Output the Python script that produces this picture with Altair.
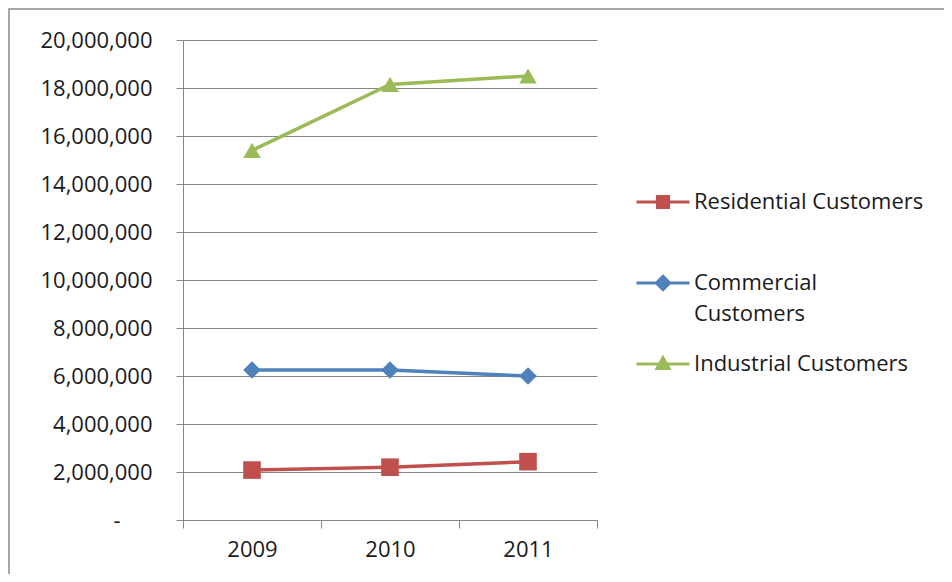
import altair as alt
import pandas as pd

years = ["2009", "2010", "2011"]
series = ["Residential Customers", "Commercial Customers", "Industrial Customers"]
residential = [2080000, 2200000, 2430000]
commercial = [6250000, 6250000, 6000000]
industrial = [15400000, 18150000, 18500000]
colors = ["#C0504D", "#4F81BD", "#9BBB59"]
markers = ["square", "diamond", "triangle-up"]

rows = []
for name, vals in zip(series, [residential, commercial, industrial]):
    for yr, v in zip(years, vals):
        rows.append({"year": yr, "series": name, "value": v})
df = pd.DataFrame(rows)
# separate keys so the marker/line scales do not merge with the colour legend
df["mk"] = df["series"] + " m"
df["lk"] = df["series"] + " l"

FONT = "Open Sans"
FS = 22

x_enc = alt.X(
    "year:N",
    sort=years,
    scale=alt.Scale(paddingInner=0, paddingOuter=0),
    axis=alt.Axis(
        title=None,
        labelAngle=0,
        tickBand="extent",
        tickSize=8,
        labelPadding=11,
        grid=False,
        domainColor="#868686",
        tickColor="#868686",
        labelFont=FONT,
        labelFontSize=FS,
        labelColor="#1a1a1a",
    ),
)
y_enc = alt.Y(
    "value:Q",
    scale=alt.Scale(domain=[0, 20000000], nice=False),
    axis=alt.Axis(
        title=None,
        values=list(range(0, 20000001, 2000000)),
        labelExpr="datum.value == 0 ? '-' : format(datum.value, ',')",
        tickSize=7,
        labelPadding={"condition": {"test": "datum.value == 0", "value": 56}, "value": 24},
        grid=True,
        gridColor="#868686",
        gridWidth=1,
        domainColor="#868686",
        tickColor="#868686",
        labelFont=FONT,
        labelFontSize=FS,
        labelColor="#1a1a1a",
    ),
)

lines = alt.Chart(df).mark_line(strokeWidth=3.5).encode(
    x=x_enc,
    y=y_enc,
    stroke=alt.Stroke(
        "lk:N", scale=alt.Scale(domain=[s + " l" for s in series], range=colors), legend=None
    ),
    detail="series:N",
)

sym_expr = (
    "datum.value == 'Residential Customers' ? 'M-1,0H1M-0.21,-0.21H0.21V0.21H-0.21Z' : "
    "(datum.value == 'Commercial Customers' ? 'M-1,0H1M0,-0.25L0.25,0L0,0.25L-0.25,0Z' : "
    "'M-1,0H1M0,-0.24L0.23,0.17L-0.23,0.17Z')"
)

label_expr = (
    "datum.label == 'Commercial Customers' ? ['Commercial', 'Customers'] : "
    "(datum.label == 'Residential Customers' ? [datum.label, ''] : datum.label)"
)

points = alt.Chart(df).mark_point(filled=True, opacity=1, size=310).encode(
    x=x_enc,
    y=y_enc,
    shape=alt.Shape(
        "mk:N", scale=alt.Scale(domain=[s + " m" for s in series], range=markers), legend=None
    ),
    color=alt.Color(
        "series:N",
        scale=alt.Scale(domain=series, range=colors),
        legend=alt.Legend(
            title=None,
            orient="none",
            legendX=452,
            legendY=134,
            padding=0,
            rowPadding=11,
            symbolType=alt.ExprRef(sym_expr),
            symbolSize=2809,
            symbolStrokeWidth=3,
            symbolStrokeColor=alt.ExprRef("scale('color', datum.value)"),
            symbolOpacity=1,
            labelExpr=label_expr,
            labelFont=FONT,
            labelFontSize=FS,
            labelColor="#1a1a1a",
            labelLimit=400,
            labelOffset=3,
        ),
    ),
)

frame = alt.Chart(pd.DataFrame({"k": [0]})).mark_rect(
    fill="white", fillOpacity=0, stroke="#8a8a8a", strokeWidth=1.5
).encode(
    x=alt.value(-174), x2=alt.value(765), y=alt.value(-31), y2=alt.value(560)
)

chart = (
    alt.layer(frame, lines, points)
    .properties(
        width=414,
        height=480,
        autosize=alt.AutoSizeParams(type="none"),
        padding={"left": 175, "top": 32, "right": 347, "bottom": 54},
    )
    .configure(
        view=alt.ViewConfig(stroke=None),
        style={"guide-label": {"lineHeight": 31}},
    )
)

chart.save("out.html", embed_options={"renderer": "svg", "actions": False})
